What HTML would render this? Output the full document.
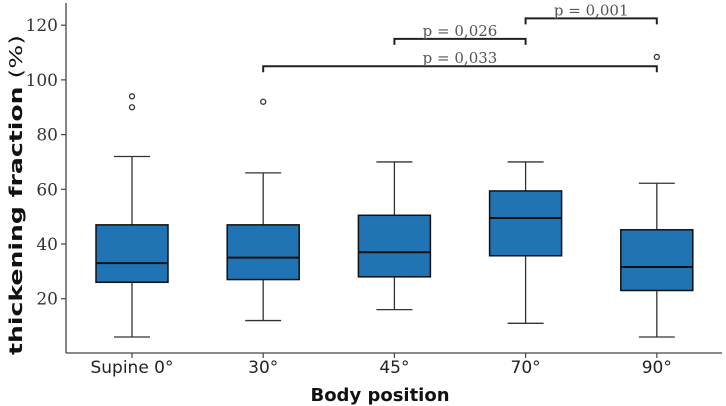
<!DOCTYPE html>
<html><head><meta charset="utf-8"><style>
html,body{margin:0;padding:0;background:#fff;}
svg{display:block;}
</style></head><body>
<svg id="chart" width="726" height="406" xmlns="http://www.w3.org/2000/svg"></svg>
<script>
const categories = ["Supine 0°","30°","45°","70°","90°"];
const whiskerLow = [6,12,16,11,6];
const q1 = [26,27,28,35.7,23];
const medians = [33,35,37,49.5,31.6];
const q3 = [47,47,50.5,59.4,45.2];
const whiskerHigh = [72,66,70,70,62.2];
const outliers = [[94,90],[92],[],[],[108.4]];
const yTicks = [20,40,60,80,100,120];
const brackets = [[1,4,105,"p = 0,033"],[2,3,115,"p = 0,026"],[3,4,122.5,"p = 0,001"]];

const NS="http://www.w3.org/2000/svg";
const svg=document.getElementById('chart');
function y(v){return 353.4-2.735*v;}
function x(i){return 132+131.2*i;}
function mk(t,a,p){const e=document.createElementNS(NS,t);for(const k in a)e.setAttribute(k,a[k]);(p||svg).appendChild(e);return e;}

let ax=mk('line',{x1:66,y1:3,x2:66,y2:353,stroke:'#444','stroke-width':1.3});


ax=mk('line',{x1:66,y1:353,x2:722,y2:353,stroke:'#444','stroke-width':1.3});



yTicks.forEach(v=>{
  const tk=mk('line',{x1:61,y1:y(v),x2:66,y2:y(v),stroke:'#444','stroke-width':1.2});
  
  
  const t=mk('text',{x:58,y:y(v)+6,'text-anchor':'end','font-family':'DejaVu Serif, serif','font-size':17,fill:'#333'});
  t.textContent=v;
  
  
});

categories.forEach((c,i)=>{
  const cx=x(i);
  const tk=mk('line',{x1:cx,y1:353,x2:cx,y2:358,stroke:'#444','stroke-width':1.2});
  
  
  const t=mk('text',{x:cx,y:373,'text-anchor':'middle','font-family':'DejaVu Sans, sans-serif','font-size':17,fill:'#222'});
  t.textContent=c;
  
  
  const g=mk('g',{});
  
  
  mk('line',{x1:cx,y1:y(whiskerHigh[i]),x2:cx,y2:y(q3[i]),stroke:'#333','stroke-width':1.3},g);
  mk('line',{x1:cx,y1:y(q1[i]),x2:cx,y2:y(whiskerLow[i]),stroke:'#333','stroke-width':1.3},g);
  mk('line',{x1:cx-18,y1:y(whiskerHigh[i]),x2:cx+18,y2:y(whiskerHigh[i]),stroke:'#333','stroke-width':1.3},g);
  mk('line',{x1:cx-18,y1:y(whiskerLow[i]),x2:cx+18,y2:y(whiskerLow[i]),stroke:'#333','stroke-width':1.3},g);
  mk('rect',{x:cx-36,y:y(q3[i]),width:72,height:y(q1[i])-y(q3[i]),fill:'#2174b4',stroke:'#111','stroke-width':1.5},g);
  mk('line',{x1:cx-36,y1:y(medians[i]),x2:cx+36,y2:y(medians[i]),stroke:'#111','stroke-width':2},g);
  outliers[i].forEach(o=>{
    const c2=mk('circle',{cx:cx,cy:y(o),r:2.5,fill:'none',stroke:'#333','stroke-width':1.3});
    
    
  });
});

brackets.forEach(b=>{
  const x1=x(b[0]),x2=x(b[1]),yy=y(b[2]);
  const p=mk('path',{d:`M${x1},${yy+6}V${yy}H${x2}V${yy+6}`,fill:'none',stroke:'#222','stroke-width':2});
  
  
  const t=mk('text',{x:(x1+x2)/2,y:yy-3,'text-anchor':'middle','font-family':'DejaVu Serif, serif','font-size':15,fill:'#555'});
  t.textContent=b[3];
  
  
});

let t=mk('text',{x:380,y:401,'text-anchor':'middle','font-family':'DejaVu Sans, sans-serif','font-size':18,'font-weight':'bold',fill:'#111'});
t.textContent='Body position';


t=mk('text',{transform:'translate(22,195) rotate(-90)','text-anchor':'middle','font-family':'DejaVu Sans, sans-serif','font-size':18,fill:'#111',textLength:320,lengthAdjust:'spacingAndGlyphs'});
t.innerHTML='<tspan font-weight="bold">thickening fraction</tspan> (%)';


</script>
</body></html>
